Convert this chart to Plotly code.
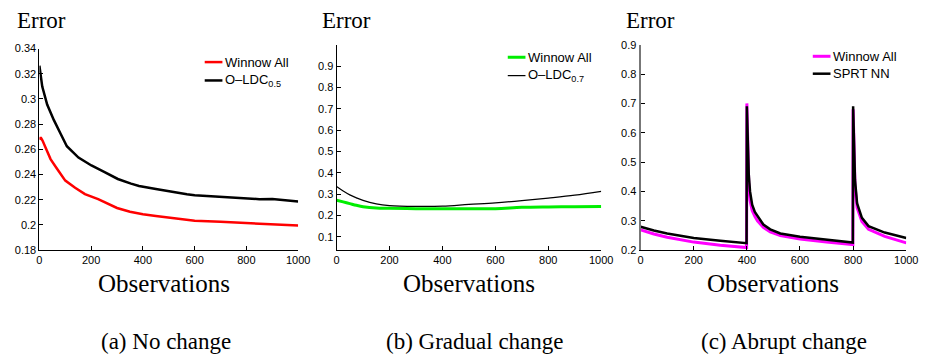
import plotly.graph_objects as go

# ---------------- data ----------------
# (a) No change
a_winnow_x = [0, 5, 12, 24, 43, 68, 100, 138, 176, 227, 277, 300, 350, 400, 450, 500, 550, 600, 700, 800, 900, 1000]
a_winnow = [0.2677, 0.2695, 0.267, 0.2612, 0.2523, 0.2446, 0.2352, 0.2295, 0.2245, 0.2205, 0.2155, 0.2135, 0.2105,
            0.2085, 0.2072, 0.2058, 0.2045, 0.2034, 0.2025, 0.2015, 0.2004, 0.1995]
a_oldc_x = [0, 11, 30, 56, 81, 106, 151, 201, 252, 303, 354, 385, 450, 500, 570, 600, 700,
            800, 850, 900, 950, 1000]
a_oldc = [0.3264, 0.3098, 0.2956, 0.2832, 0.2728, 0.2625, 0.2535, 0.2472, 0.242, 0.2365, 0.2328, 0.2310,
          0.2285, 0.2265, 0.2243, 0.2236, 0.2222, 0.2211, 0.2205, 0.2207, 0.2195, 0.2186]

# (b) Gradual change
b_x = [0, 25, 50, 75, 100, 150, 200, 300, 400, 500, 600, 700, 800, 900, 1000]
b_winnow = [0.272, 0.264, 0.256, 0.248, 0.2415, 0.235, 0.234, 0.2325, 0.2325, 0.2325, 0.2325, 0.2385, 0.2405, 0.2415, 0.243]
b_oldc = [0.336, 0.315, 0.297, 0.283, 0.271, 0.255, 0.247, 0.243, 0.244, 0.252, 0.2595, 0.27, 0.282, 0.2955, 0.3135]

# (c) Abrupt change
c_x = [0, 50, 100, 200, 300, 399, 400, 403, 407, 412, 420, 430, 440, 462, 488, 526, 600, 700, 799,
       800, 803, 807, 815, 833, 858, 919, 1000]
c_winnow = [0.269, 0.255, 0.244, 0.2275, 0.2164, 0.209, 0.700, 0.56, 0.43, 0.37, 0.335, 0.315, 0.300, 0.278, 0.262,
            0.250, 0.238, 0.2275, 0.219, 0.680, 0.55, 0.42, 0.345, 0.298, 0.271, 0.247, 0.225]
c_sprt = [0.280, 0.267, 0.257, 0.2416, 0.2318, 0.224, 0.690, 0.58, 0.46, 0.40, 0.355, 0.330, 0.316, 0.2875, 0.271,
          0.257, 0.246, 0.235, 0.226, 0.690, 0.57, 0.44, 0.359, 0.31, 0.282, 0.26, 0.2416]

x_ticks = [0, 200, 400, 600, 800, 1000]
x_ticklabels = ["0", "200", "400", "600", "800", "1000"]
a_yticks = [0.18, 0.20, 0.22, 0.24, 0.26, 0.28, 0.30, 0.32, 0.34]
a_yticklabels = ["0.18", "0.2", "0.22", "0.24", "0.26", "0.28", "0.3", "0.32", "0.34"]
b_yticks = [0.1, 0.2, 0.3, 0.4, 0.5, 0.6, 0.7, 0.8, 0.9]
b_yticklabels = ["0.1", "0.2", "0.3", "0.4", "0.5", "0.6", "0.7", "0.8", "0.9"]
c_yticks = [0.2, 0.3, 0.4, 0.5, 0.6, 0.7, 0.8, 0.9]
c_yticklabels = ["0.2", "0.3", "0.4", "0.5", "0.6", "0.7", "0.8", "0.9"]

captions = ["(a) No change", "(b) Gradual change", "(c) Abrupt change"]

# ---------------- figure ----------------
W, H = 934, 364
fig = go.Figure()

fig.add_trace(go.Scatter(x=a_winnow_x, y=a_winnow, mode="lines", name="Winnow All",
                         line=dict(color="#ff0000", width=2.5), xaxis="x", yaxis="y"))
fig.add_trace(go.Scatter(x=a_oldc_x, y=a_oldc, mode="lines", name="O–LDC<sub>0.5</sub>",
                         line=dict(color="#000000", width=2.5), xaxis="x", yaxis="y"))
fig.add_trace(go.Scatter(x=b_x, y=b_winnow, mode="lines", name="Winnow All",
                         line=dict(color="#00ee00", width=3, shape="spline"), xaxis="x2", yaxis="y2"))
fig.add_trace(go.Scatter(x=b_x, y=b_oldc, mode="lines", name="O–LDC<sub>0.7</sub>",
                         line=dict(color="#000000", width=1.2, shape="spline"), xaxis="x2", yaxis="y2"))
fig.add_trace(go.Scatter(x=c_x, y=c_winnow, mode="lines", name="Winnow All",
                         line=dict(color="#ff00ff", width=3), xaxis="x3", yaxis="y3"))
fig.add_trace(go.Scatter(x=c_x, y=c_sprt, mode="lines", name="SPRT NN",
                         line=dict(color="#000000", width=2.5), xaxis="x3", yaxis="y3"))


def px(x):
    return x / W


def py(y):
    return (H - y) / H


bottom = py(252.5)
tick_font = dict(family="Liberation Sans, Arial, sans-serif", size=11, color="#000")
common_x = dict(range=[0, 1000], tickvals=x_ticks, ticktext=x_ticklabels, showline=True,
                linecolor="#000", linewidth=1, ticks="inside", ticklen=4, tickcolor="#000",
                showgrid=False, zeroline=False, tickfont=tick_font, fixedrange=True)
common_y = dict(showline=True, linecolor="#000", linewidth=1, ticks="inside", ticklen=4,
                tickcolor="#000", showgrid=False, zeroline=False, tickfont=tick_font, fixedrange=True)

layout = dict(
    width=W, height=H, margin=dict(l=0, r=0, t=0, b=0),
    paper_bgcolor="white", plot_bgcolor="white", showlegend=False,
    xaxis=dict(common_x, domain=[px(37), px(300)], anchor="y"),
    yaxis=dict(common_y, domain=[bottom, py(44)], range=[0.18, 0.34], tickvals=a_yticks,
               ticktext=a_yticklabels, anchor="x"),
    xaxis2=dict(common_x, domain=[px(339), px(608)], anchor="y2"),
    yaxis2=dict(common_y, domain=[bottom, py(40)], range=[0.038, 1.0], tickvals=b_yticks,
                ticktext=b_yticklabels, anchor="x2"),
    xaxis3=dict(common_x, domain=[px(648), px(918)], anchor="y3"),
    yaxis3=dict(common_y, domain=[bottom, py(40)], range=[0.2, 0.9], tickvals=c_yticks,
                ticktext=c_yticklabels, anchor="x3", linecolor="#777", linewidth=2),
)
fig.update_layout(**layout)

serif = "Liberation Serif, Times New Roman, serif"
ann = []
shapes = []
for xe in [12, 322, 631]:
    ann.append(dict(text="Error", x=px(xe), y=py(15), xref="paper", yref="paper",
                    xanchor="left", yanchor="middle", showarrow=False,
                    font=dict(family=serif, size=23, color="#000")))
for xc in [163.5, 473.5, 783]:
    ann.append(dict(text="Observations", x=px(xc), y=py(287), xref="paper", yref="paper",
                    xanchor="center", yanchor="middle", showarrow=False,
                    font=dict(family=serif, size=25, color="#000")))
for xc, cap in zip([166, 480, 794], captions):
    ann.append(dict(text=cap, x=px(xc), y=py(347), xref="paper", yref="paper",
                    xanchor="center", yanchor="middle", showarrow=False,
                    font=dict(family=serif, size=23, color="#000")))

# manual legends (short line samples like the original)
legend_font = dict(family="Liberation Sans, Arial, sans-serif", size=13, color="#000")
legends = [
    (205, [(58, "#ff0000", 2.5, "Winnow All"), (77, "#000000", 2.5, "O–LDC<sub>0.5</sub>")]),
    (513, [(53, "#00ee00", 3, "Winnow All"), (72, "#000000", 1.2, "O–LDC<sub>0.7</sub>")]),
    (823, [(52, "#ff00ff", 3, "Winnow All"), (70, "#000000", 2.5, "SPRT NN")]),
]
for x0, rows in legends:
    for yy, col, lw, label in rows:
        shapes.append(dict(type="line", xref="paper", yref="paper", x0=px(x0), x1=px(x0 + 18),
                           y0=py(yy), y1=py(yy), line=dict(color=col, width=lw)))
        ann.append(dict(text=label, x=px(x0 + 19), y=py(yy), xref="paper", yref="paper",
                        xanchor="left", yanchor="middle", showarrow=False, font=legend_font))

fig.update_layout(annotations=ann, shapes=shapes)
fig.write_html("out.html", config={"displayModeBar": False},
               post_script="document.body.style.margin='0';")
